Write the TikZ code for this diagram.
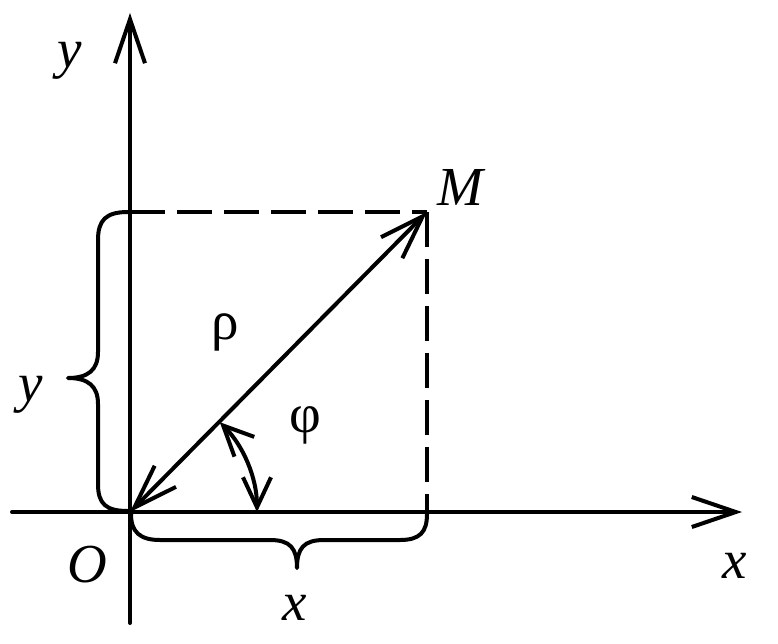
\documentclass[tikz,border=0pt]{standalone}
\usepackage{fontspec}
\setmainfont{Liberation Serif}
\usetikzlibrary{arrows.meta}
\tikzset{
  ln/.style={line width=4pt, line cap=round, line join=round},
  bigtip/.style={-{Straight Barb[length=44pt,width=30pt]}},
  dashln/.style={ln, line cap=butt, dash pattern=on 35pt off 12pt},
  lbl/.style={font=\fontsize{55}{60}\selectfont, inner sep=0pt, anchor=base},
}
\begin{document}
\begin{tikzpicture}[x=1pt,y=-1pt]
\useasboundingbox (0,0) rectangle (778,643);
% coordinates
\coordinate (O) at (130,512);
\coordinate (M) at (427,212);
\coordinate (yproj) at (130,212);
\coordinate (xproj) at (427,512);
\coordinate (xs) at (12,512);
\coordinate (xe) at (742,512);
\coordinate (ys) at (130,623);
\coordinate (ye) at (130,13);
\coordinate (arcA) at (257,512);
% axes
\draw[ln, bigtip] (xs) -- (xe);
\draw[ln, bigtip] (ys) -- (ye);
% dashed projections
\draw[dashln] (yproj) -- (M);
\draw[dashln] (M) -- (xproj);
% vector
\draw[ln, {Straight Barb[length=44pt,width=30pt]}-{Straight Barb[length=44pt,width=30pt]}] (O) -- (M);
% angle arc
\draw[ln, {Straight Barb[length=30pt,width=28pt]}-{Straight Barb[length=30pt,width=28pt]}] (arcA) arc[start angle=0, end angle=45, radius=127pt];
% left brace
\draw[ln] (128,212) .. controls (106,212) and (98,220) .. (98,240) -- (98,352)
  .. controls (98,370) and (88,378) .. (68,378)
  .. controls (88,378) and (98,386) .. (98,404) -- (98,484)
  .. controls (98,504) and (106,511) .. (128,511);
% bottom brace
\draw[ln] (131,514) .. controls (131,532) and (140,540) .. (160,540) -- (270,540)
  .. controls (290,540) and (297,548) .. (297,568)
  .. controls (297,548) and (304,540) .. (324,540) -- (400,540)
  .. controls (420,540) and (427,532) .. (427,514);
% labels
\node[lbl] (ly) at (70,67) {\textit{y}};
\node[lbl] (lM) at (462,205) {\textit{M}};
\node[lbl] (lrho) at (225,339) {ρ};
\node[lbl] (lphi) at (305,432) {φ};
\node[lbl] (ly2) at (31,401) {\textit{y}};
\node[lbl] (lO) at (87,582) {\textit{O}};
\node[lbl] (lx) at (735,578) {\textit{x}};
\node[lbl] (lx2) at (295,620) {\textit{x}};
\end{tikzpicture}
\end{document}
